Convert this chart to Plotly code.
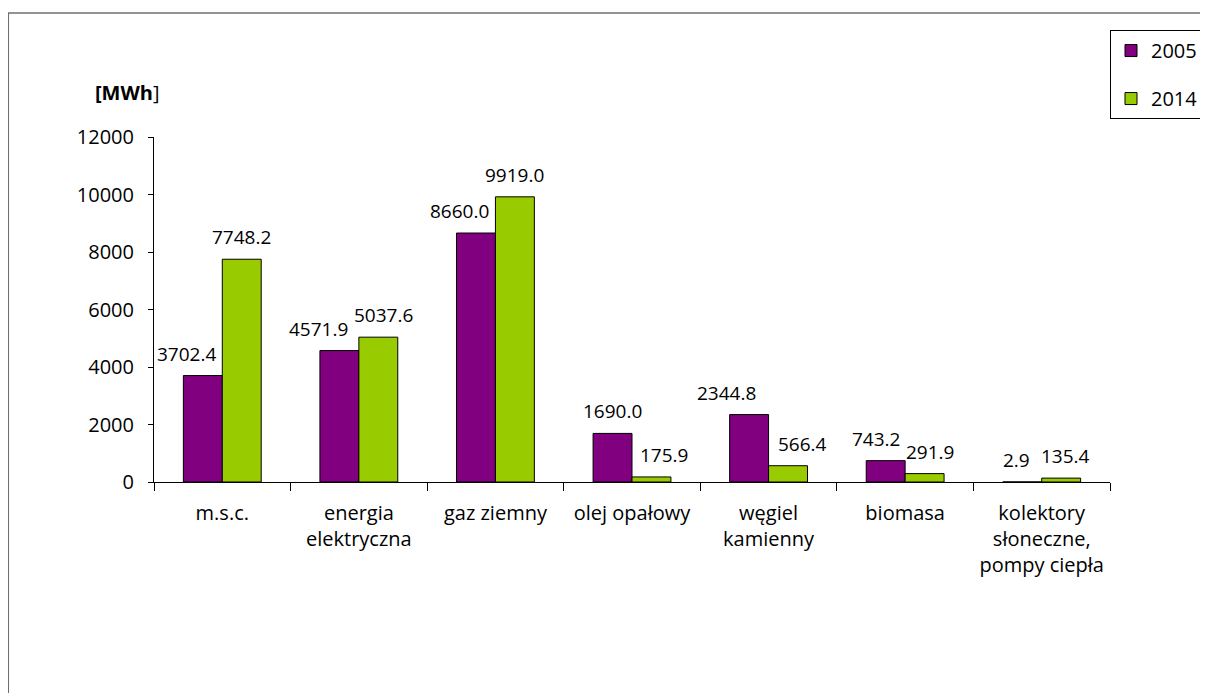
import plotly.graph_objects as go

categories = ["m.s.c.", "energia<br>elektryczna", "gaz ziemny", "olej opałowy",
              "węgiel<br>kamienny", "biomasa", "kolektory<br>słoneczne,<br>pompy ciepła"]
values_2005 = [3702.4, 4571.9, 8660.0, 1690.0, 2344.8, 743.2, 2.9]
values_2014 = [7748.2, 5037.6, 9919.0, 175.9, 566.4, 291.9, 135.4]

FONT = "Open Sans"
PURPLE = "#800080"
GREEN = "#99CC00"

fig = go.Figure()
fig.add_trace(go.Bar(x=categories, y=values_2005, name="2005", legendgroup="a",
                     marker=dict(color=PURPLE, line=dict(color="black", width=1))))
fig.add_trace(go.Bar(x=categories, y=values_2014, name="2014", legendgroup="b",
                     marker=dict(color=GREEN, line=dict(color="black", width=1))))

# data labels; some pushed sideways as in the original
nudge_2005 = {0: -16, 1: -21, 2: -16, 4: -23, 5: -10, 6: -6}
nudge_2014 = {1: 5, 3: 12, 4: 14, 5: 5, 6: 4}
for i, c in enumerate(categories):
    for vals, off, nudge in ((values_2005, -19.5, nudge_2005), (values_2014, 19.5, nudge_2014)):
        fig.add_annotation(x=c, y=vals[i], text=f"{vals[i]:.1f}", showarrow=False,
                           xshift=off + nudge.get(i, 0), yshift=22, yanchor="middle",
                           font=dict(size=19, color="black", family=FONT))

fig.add_annotation(xref="paper", yref="paper", x=-0.028, y=1.13, xanchor="center",
                   yanchor="middle", text="<b>[MWh</b>]", showarrow=False,
                   font=dict(size=20, color="black", family=FONT))

# outer chart border (only top/left visible in the picture)
fig.add_shape(type="rect", xref="paper", yref="paper", x0=-0.1524, x1=1.3, y0=-1.0, y1=1.3594,
              line=dict(color="#707070", width=1.5), fillcolor="rgba(0,0,0,0)")

# the page body adds 8px, so margins are shifted to keep the plot in place
fig.update_layout(
    width=1208, height=693,
    margin=dict(l=146, r=104, t=129, b=219),
    paper_bgcolor="white", plot_bgcolor="white",
    font=dict(family=FONT, size=20, color="black"),
    barmode="group", bargap=0.43, bargroupgap=0,
    legend=dict(x=1.0, y=1.31, xanchor="left", yanchor="top",
                bordercolor="black", borderwidth=1, traceorder="grouped",
                tracegroupgap=19, itemwidth=30, font=dict(size=20, family=FONT)),
    showlegend=True,
)
fig.update_yaxes(range=[0, 12000], dtick=2000, tickformat="d", showgrid=False, showline=True,
                 linecolor="black", linewidth=1, ticks="outside", ticklen=5,
                 tickcolor="black", zeroline=False, ticklabelstandoff=10)
fig.update_xaxes(showgrid=False, showline=True, linecolor="black", linewidth=1,
                 ticks="outside", ticklen=8, tickcolor="black", tickson="boundaries",
                 ticklabelstandoff=13)

fig.write_html("out.html")
